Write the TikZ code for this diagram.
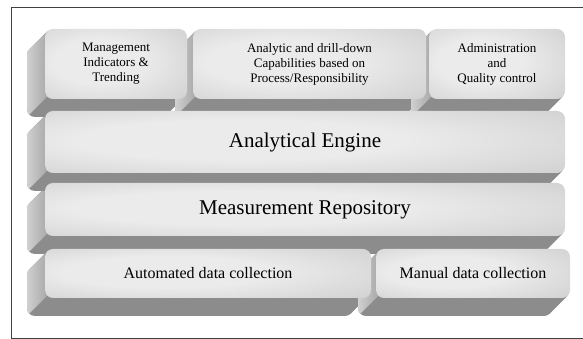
\documentclass[tikz,border=0pt]{standalone}
\usepackage{fontspec}
\setmainfont{Liberation Serif}
\usetikzlibrary{calc, backgrounds}

\definecolor{facelight}{HTML}{EBEBEB}
\definecolor{facemid}{HTML}{D0D0D0}
\definecolor{facedark}{HTML}{A0A0A0}
\definecolor{sidelight}{HTML}{D0D0D0}
\definecolor{sidedark}{HTML}{A8A8A8}
\definecolor{bottomgray}{HTML}{8C8C8C}
\definecolor{framegray}{HTML}{404040}

\pgfdeclareradialshading{slabface}{\pgfpoint{-8bp}{2bp}}{%
	color(0bp)=(facelight); color(16bp)=(facelight);
	color(40bp)=(facemid); color(58bp)=(facedark); color(75bp)=(facedark)}

\tikzset{
	slabface/.style={shade, shading=slabface, rounded corners=8pt,
		inner sep=0pt, outer sep=0pt, align=center},
	slabbottom/.style={fill=bottomgray},
	slabside/.style={left color=sidelight, right color=sidedark},
	smalltext/.style={font=\fontsize{13}{15}\selectfont},
	bigtext/.style={font=\fontsize{21}{25}\selectfont},
	midtext/.style={font=\fontsize{16}{19}\selectfont}
}

\begin{document}
\begin{tikzpicture}[x=1pt, y=1pt]
	\def \slabdepth {18}
	\def \slabrad {8}
	\def \slabk {2.343}

	\useasboundingbox (0,0) rectangle (583,339);
	\draw[framegray, line width=0.8pt] (583,332) -- (11,332) -- (11,1) -- (583,1);

	% top row
	\node[slabface, smalltext, minimum width=142, minimum height=70] (mgmt)   at (116,275)
		{Management\\Indicators \&\\Trending};
	\node[slabface, smalltext, minimum width=233, minimum height=70] (drill)  at (309.5,275)
		{Analytic and drill-down\\Capabilities based on\\Process/Responsibility};
	\node[slabface, smalltext, minimum width=136, minimum height=70] (admin)  at (497,275)
		{Administration\\and\\Quality control};

	% middle rows
	\node[slabface, bigtext, minimum width=520, minimum height=62] (engine) at (305,197)
		{Analytical Engine};
	\node[slabface, bigtext, minimum width=520, minimum height=53] (repo)   at (305,129.5)
		{Measurement Repository};

	% bottom row
	\node[slabface, midtext, minimum width=326, minimum height=49] (auto)   at (208,65.5)
		{Automated data collection};
	\node[slabface, midtext, minimum width=194, minimum height=49] (manual) at (473,65.5)
		{Manual data collection};

	% extruded bodies, lowest row first
	\begin{scope}[on background layer]
	\foreach \n in {auto, manual, repo, engine, mgmt, drill, admin} {
		\fill[slabbottom, rounded corners=8pt]
			($(\n.south west)+(-\slabdepth,-\slabdepth)$) rectangle
			($(\n.north east)+(-\slabdepth,-\slabdepth)$);
		\fill[slabbottom] ($(\n.north west)+(\slabk,-\slabk)$) -- ++(-\slabdepth,-\slabdepth)
			-- ($(\n.south east)+(-\slabk-\slabdepth,\slabk-\slabdepth)$)
			-- ($(\n.south east)+(-\slabk,\slabk)$) -- cycle;
		\shade[slabside] ($(\n.north west)+(\slabk,-\slabk)$) -- ++(-\slabdepth,-\slabdepth)
			arc[start angle=135, end angle=180, radius=\slabrad]
			-- ($(\n.south west)+(-\slabdepth,\slabrad-\slabdepth)$)
			arc[start angle=180, end angle=225, radius=\slabrad]
			-- ++(\slabdepth,\slabdepth)
			arc[start angle=225, end angle=180, radius=\slabrad]
			-- ($(\n.north west)+(0,-\slabrad)$)
			arc[start angle=180, end angle=135, radius=\slabrad] -- cycle;
	}
	\end{scope}
\end{tikzpicture}
\end{document}
